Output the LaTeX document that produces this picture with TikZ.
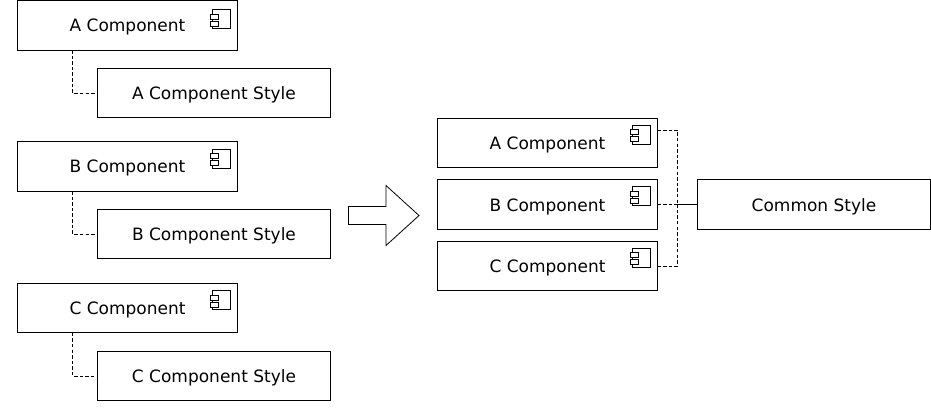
\documentclass[tikz,border=0pt]{standalone}
\usepackage{fontspec}
\setmainfont{DejaVu Sans}
\tikzset{
  px/.style={x=0.75pt,y=-0.75pt},
  box/.style={draw=black,fill=white,line width=0.75pt,outer sep=0pt,inner sep=0pt,minimum height=37.2pt,text height=9.75pt,text depth=0pt,font=\fontsize{12.75}{15}\selectfont},
  comp/.style={box,minimum width=165pt},
  sty/.style={box,minimum width=174.75pt},
  conn/.style={line width=0.6pt,dash pattern=on 2.6pt off 1.6pt},
  icon/.style={line width=0.6pt,fill=white}
}
\newcommand{\compicon}[2]{%
  \draw[icon] ([shift={(-25,#2)}]#1.north east) rectangle ++(18,19);
  \draw[icon] ([shift={(-27.5,#2+4.5)}]#1.north east) rectangle ++(8,5);
  \draw[icon] ([shift={(-27.5,#2+11.5)}]#1.north east) rectangle ++(8,5);
}
\begin{document}
\begin{tikzpicture}[px]
\useasboundingbox (0,0) rectangle (931,419);
\node[comp] (a) at (127.5,25.25) {A Component};
\node[sty] (as) at (214,93) {A Component Style};
\node[comp] (b) at (127.5,166.25) {B Component};
\node[sty] (bs) at (214,234) {B Component Style};
\node[comp] (c) at (127.5,308) {C Component};
\node[sty] (cs) at (214,376) {C Component Style};
\node[comp] (ma) at (547.5,143) {A Component};
\node[comp] (mb) at (547.5,204.5) {B Component};
\node[comp] (mc) at (547.5,266) {C Component};
\node[sty] (cm) at (814,204.5) {Common Style};
\compicon{a}{9}
\compicon{b}{7.5}
\compicon{c}{7.5}
\compicon{ma}{7}
\compicon{mb}{7}
\compicon{mc}{7}
\draw[line width=0.6pt,fill=white] (348.5,206.5) -- (386,206.5) -- (386,185.5) -- (419,215.5) -- (386,245.5) -- (386,224.5) -- (348.5,224.5) -- cycle;
\draw[conn] ([xshift=41.25pt]a.south west) |- (as.west);
\draw[conn] ([xshift=41.25pt]b.south west) |- (bs.west);
\draw[conn] ([xshift=41.25pt]c.south west) |- (cs.west);
\coordinate (j) at (677.5,204.5);
\draw[conn] (ma.east |- 0,130) -| (j);
\draw[conn] (mc.east |- 0,266) -| (j);
\draw[conn] (mb.east) -- (j);
\draw[line width=0.6pt] (j) -- (cm.west);
\end{tikzpicture}
\end{document}
